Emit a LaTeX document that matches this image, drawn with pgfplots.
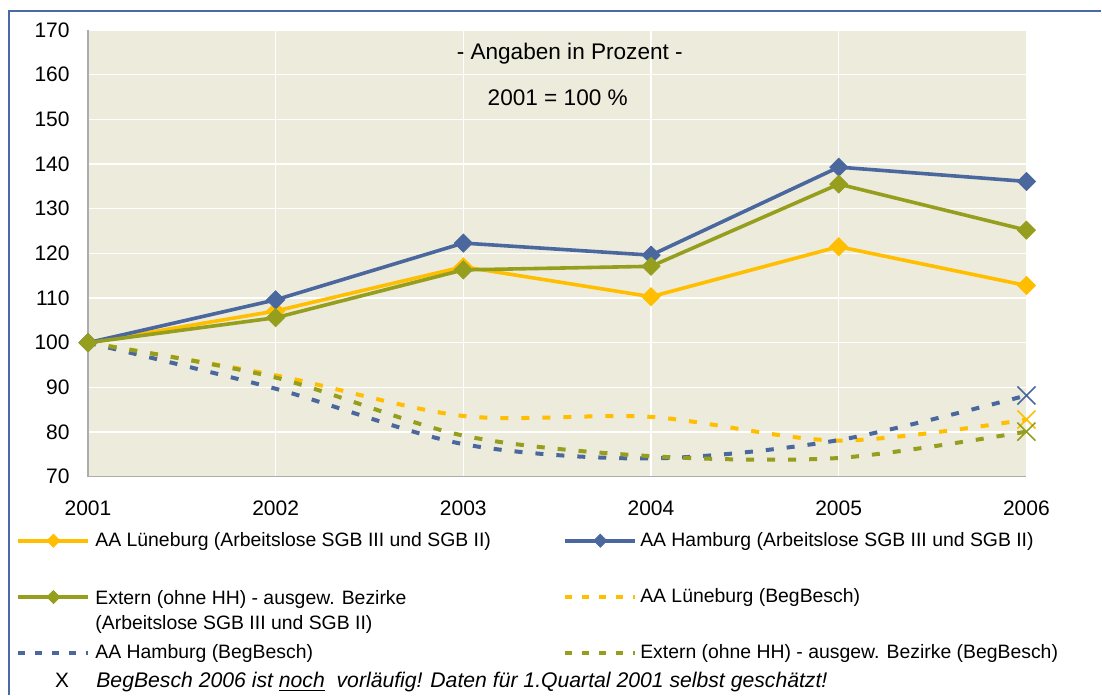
\documentclass[border=0pt]{standalone}
\usepackage{fontspec}
\setmainfont{Liberation Sans}
\usepackage{pgfplots}
\pgfplotsset{compat=1.18}

\definecolor{gelb}{RGB}{255,190,0}
\definecolor{blau}{RGB}{74,104,158}
\definecolor{gruen}{RGB}{150,158,30}
\definecolor{hgrund}{RGB}{237,235,220}
\definecolor{rahmen}{RGB}{74,106,166}

\pgfplotsset{
  diamline/.style={line width=1.8pt, mark=square*, mark size=3.2pt,
    mark options={solid, rotate=45, line width=0.4pt}},
  bbline/.style={line width=2pt, dash pattern=on 4pt off 6.5pt, smooth,
    mark=x, mark indices={6}, mark size=6.4pt,
    mark options={solid, line width=0.8pt}},
}

\begin{document}
\begin{tikzpicture}
\path (0,0) rectangle (551pt,-347.5pt);
\draw[rahmen, line width=0.6pt] (4.5pt,-347.5pt) -- (4.5pt,-5.5pt) -- (551pt,-5.5pt);

\begin{axis}[
  at={(44pt,-238.5pt)}, anchor=south west,
  scale only axis, width=469.5pt, height=223.5pt,
  xmin=2001, xmax=2006, ymin=70, ymax=170,
  xtick={2001,2002,...,2006}, ytick={70,80,...,170},
  axis background/.style={fill=hgrund},
  grid=major, grid style={white, line width=0.7pt},
  axis x line*=bottom, axis y line*=left,
  axis line style={-, gray!65, line width=0.7pt},
  major tick length=0pt,
  tick label style={font=\fontsize{10.5}{12}\selectfont},
  /pgf/number format/assume math mode=true,
  /pgf/number format/1000 sep={},
  yticklabel style={inner sep=0pt, xshift=-9pt},
  xticklabel style={inner sep=0pt, yshift=-12pt},
  legend columns=2,
  legend cell align=left,
  legend style={draw=none, fill=none, inner sep=0pt,
    at={(-0.0766,-0.1232)}, anchor=north west,
    font=\fontsize{9.7}{12.5}\selectfont,
    nodes={inner sep=0pt, text depth=0.15em},
    row sep=18.8pt,
    /tikz/column 1/.style={column sep=2.5pt},
    /tikz/column 2/.style={column sep=36.2pt},
    /tikz/column 3/.style={column sep=1.5pt}},
  legend image code/.code={\draw[#1, mark size=2.3pt, mark repeat=2, mark phase=2]
    plot coordinates {(0pt,0pt) (17.5pt,0pt) (35pt,0pt)};},
]
% BegBesch (gestrichelt, geglaettet)
\addplot[bbline, gelb, forget plot] coordinates {
  (2001,100) (2002,92.7) (2003,83.6) (2004,83.4) (2005,78.1) (2006,82.8)};
\addplot[bbline, blau, forget plot] coordinates {
  (2001,100) (2002,89.7) (2003,77.3) (2004,74.1) (2005,78.2) (2006,88.2)};
\addplot[bbline, gruen, forget plot] coordinates {
  (2001,100) (2002,92.2) (2003,79.2) (2004,74.6) (2005,74.2) (2006,80.1)};

% Arbeitslose
\addplot[diamline, gelb] coordinates {
  (2001,100) (2002,107.1) (2003,117.0) (2004,110.3) (2005,121.5) (2006,112.8)};
\addlegendentry{AA Lüneburg (Arbeitslose SGB III und SGB II)}
\addplot[diamline, blau] coordinates {
  (2001,100) (2002,109.6) (2003,122.3) (2004,119.6) (2005,139.3) (2006,136.1)};
\addlegendentry{AA Hamburg (Arbeitslose SGB III und SGB II)}
\addplot[diamline, gruen] coordinates {
  (2001,100) (2002,105.6) (2003,116.3) (2004,117.1) (2005,135.5) (2006,125.2)};
\addlegendentry{\raisebox{0pt}[\height][0pt]{\begin{tabular}[t]{@{}l@{}}Extern (ohne HH) - ausgew. Bezirke\\(Arbeitslose SGB III und SGB II)\end{tabular}}}

\addlegendimage{line width=2pt, dash pattern=on 3.5pt off 5pt, gelb}
\addlegendentry{AA Lüneburg (BegBesch)}
\addlegendimage{line width=2pt, dash pattern=on 3.5pt off 5pt, blau}
\addlegendentry{AA Hamburg (BegBesch)}
\addlegendimage{line width=2pt, dash pattern=on 3.5pt off 5pt, gruen}
\addlegendentry{Extern (ohne HH) - ausgew. Bezirke (BegBesch)}

\node[font=\fontsize{11.3}{13}\selectfont] at (axis cs:2003.567,164.6) {- Angaben in Prozent -};
\node[font=\fontsize{11.3}{13}\selectfont] at (axis cs:2003.503,154.8) {2001 = 100 \%};
\end{axis}

\node[anchor=base, font=\fontsize{10.4}{12}\selectfont] at (31pt,-344pt) {X};
\node[anchor=base west, inner sep=0pt, font=\fontsize{10.6}{12}\selectfont\itshape] at (48pt,-344pt)
  {BegBesch 2006 ist \underline{noch}\ \ vorläufig! Daten für 1.Quartal 2001 selbst geschätzt!};
\end{tikzpicture}
\end{document}
